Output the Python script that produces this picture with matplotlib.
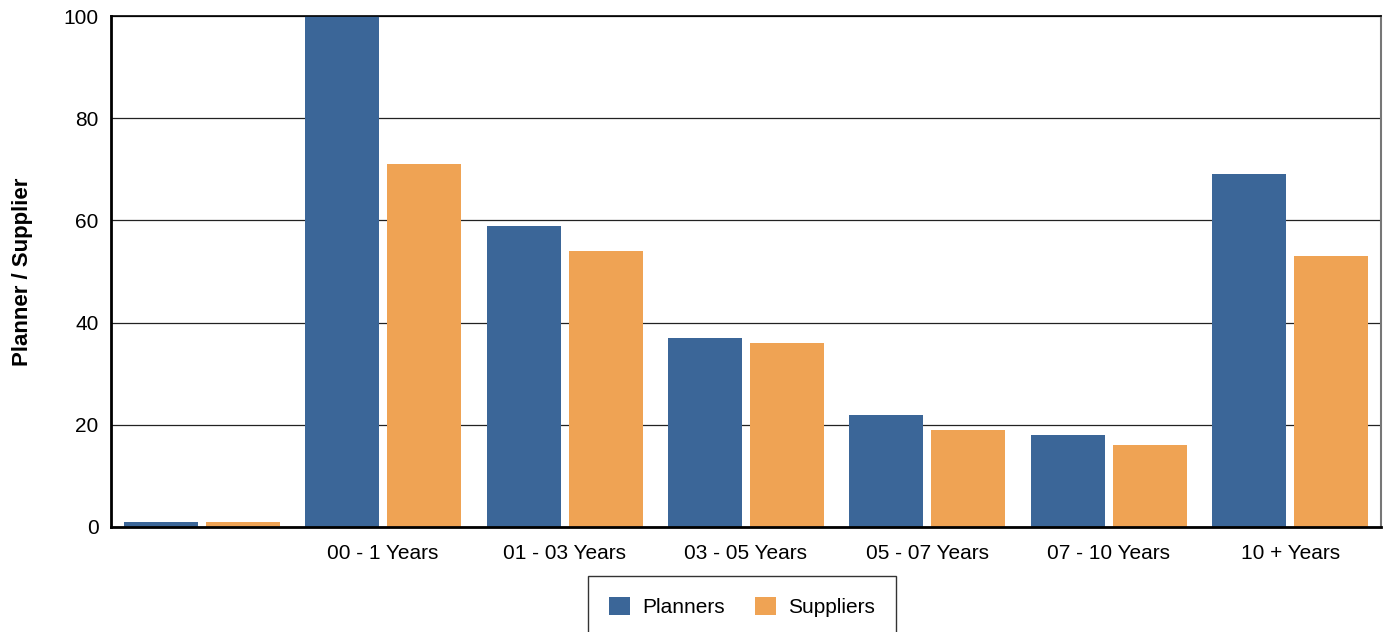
import matplotlib
matplotlib.use("Agg")
import matplotlib.pyplot as plt
import numpy as np

plt.rcParams['font.family'] = ['Liberation Sans', 'DejaVu Sans']

categories = ["", "00 - 1 Years", "01 - 03 Years", "03 - 05 Years",
              "05 - 07 Years", "07 - 10 Years", "10 + Years"]
planners = [1, 100, 59, 37, 22, 18, 69]
suppliers = [1, 71, 54, 36, 19, 16, 53]
series_names = ["Planners", "Suppliers"]
yticks = [0, 20, 40, 60, 80, 100]

blue = "#3B6698"
orange = "#EFA354"

fig = plt.figure(figsize=(13.85, 6.32), dpi=100)
ax = fig.add_axes([111/1385, 1-527/632, (1381-111)/1385, (527-16)/632])

x = np.arange(len(categories))
w = 0.408
off = 0.226
ax.bar(x - off, planners, width=w, color=blue, label=series_names[0], zorder=2)
ax.bar(x + off, suppliers, width=w, color=orange, label=series_names[1], zorder=2)

ax.set_xlim(-0.5, len(categories) - 0.5)
ax.set_ylim(0, 100)
ax.set_yticks(yticks)
ax.set_xticks(x)
ax.set_xticklabels(categories)
ax.tick_params(axis='both', length=0, labelsize=15, colors='black')
ax.tick_params(axis='x', pad=12)
ax.tick_params(axis='y', pad=9)
ax.yaxis.grid(True, color='#222222', linewidth=0.9)
ax.set_axisbelow(True)

for s in ['left', 'bottom']:
    ax.spines[s].set_linewidth(2)
    ax.spines[s].set_color('black')
ax.spines['top'].set_linewidth(1.2)
ax.spines['top'].set_color('black')
ax.spines['right'].set_linewidth(1.5)
ax.spines['right'].set_color('#777777')

ax.set_ylabel("Planner / Supplier", fontsize=16, fontweight='bold')
ax.yaxis.set_label_coords((33 - 111) / 1270, 0.5)

leg = fig.legend(loc='upper left', bbox_to_anchor=(588/1385, 1-576/632),
                 ncol=2, frameon=True, fancybox=False, edgecolor='black',
                 fontsize=15, handlelength=1.0, handleheight=1.0,
                 handletextpad=0.6, columnspacing=1.45, borderpad=1.0,
                 borderaxespad=0)
leg.get_frame().set_linewidth(1.0)

fig.savefig("out.png", dpi=100)
